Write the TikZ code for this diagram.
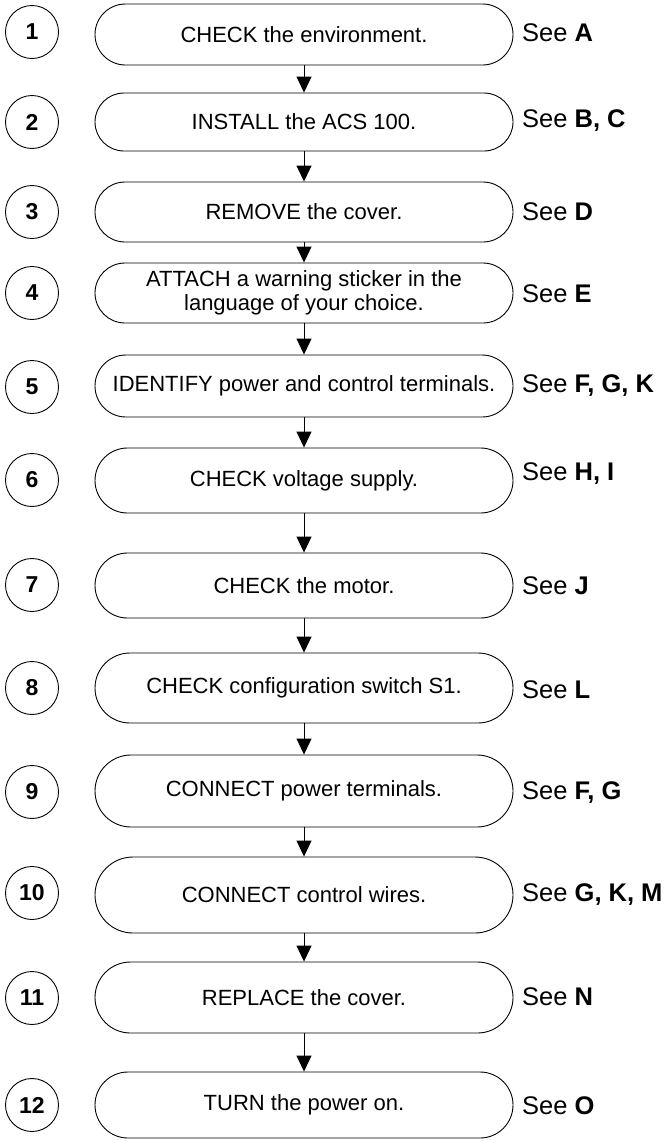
\documentclass[tikz,border=0pt]{standalone}
\usepackage{fontspec}
\setmainfont{Liberation Sans}
\usetikzlibrary{shapes.misc,arrows.meta}
\tikzset{
  stepbox/.style={rounded rectangle, draw, line width=0.9pt, minimum width=418pt, inner sep=0pt, align=center, font=\fontsize{22}{24.5}\selectfont},
  numcircle/.style={circle, draw, line width=0.9pt, minimum size=53pt, inner sep=0pt, font=\fontsize{23}{25}\selectfont\bfseries},
  seelabel/.style={anchor=west, inner sep=0pt, font=\fontsize{25.5}{27}\selectfont},
  flow/.style={line width=0.9pt, -{Triangle[width=15pt,length=16pt]}}
}
\begin{document}
\begin{tikzpicture}[x=1pt,y=-1pt]
\useasboundingbox (0,0) rectangle (669,1141);
% boxes
\node[stepbox, minimum height=61pt] (b1) at (304,34.5) {CHECK the environment.};
\node[stepbox, minimum height=58pt] (b2) at (304,122) {INSTALL the ACS 100.};
\node[stepbox, minimum height=60pt] (b3) at (304,212) {REMOVE the cover.};
\node[stepbox, minimum height=60pt] (b4) at (304,293) {ATTACH a warning sticker in the\\language of your choice.};
\node[stepbox, minimum height=62pt] (b5) at (304,386) {IDENTIFY power and control terminals.};
\node[stepbox, minimum height=65pt] (b6) at (304,480.5) {CHECK voltage supply.};
\node[stepbox, minimum height=65pt] (b7) at (304,585.5) {CHECK the motor.};
\node[stepbox, minimum height=70pt] (b8) at (304,688) {CHECK configuration switch S1.};
\node[stepbox, minimum height=72pt] (b9) at (304,791) {CONNECT power terminals.};
\node[stepbox, minimum height=76pt] (b10) at (304,895) {CONNECT control wires.};
\node[stepbox, minimum height=71pt] (b11) at (304,997.5) {REPLACE the cover.};
\node[stepbox, minimum height=66pt] (b12) at (304,1105) {TURN the power on.};
% number circles
\node[numcircle] (n1) at (32,32) {1};
\node[numcircle] (n2) at (32,122) {2};
\node[numcircle] (n3) at (32,212) {3};
\node[numcircle] (n4) at (32,293) {4};
\node[numcircle] (n5) at (32,387) {5};
\node[numcircle] (n6) at (32,480) {6};
\node[numcircle] (n7) at (32,585) {7};
\node[numcircle] (n8) at (32,688) {8};
\node[numcircle] (n9) at (32,792) {9};
\node[numcircle] (n10) at (32,893) {10};
\node[numcircle] (n11) at (32,998) {11};
\node[numcircle] (n12) at (32,1105) {12};
% see labels
\node[seelabel] (s1) at (522,33) {See \textbf{A}};
\node[seelabel] (s2) at (522,121) {See \textbf{B, C}};
\node[seelabel] (s3) at (522,212) {See \textbf{D}};
\node[seelabel] (s4) at (522,294) {See \textbf{E}};
\node[seelabel] (s5) at (522,386) {See \textbf{F, G, K}};
\node[seelabel] (s6) at (522,474) {See \textbf{H, I}};
\node[seelabel] (s7) at (522,586) {See \textbf{J}};
\node[seelabel] (s8) at (522,690) {See \textbf{L}};
\node[seelabel] (s9) at (522,793) {See \textbf{F, G}};
\node[seelabel] (s10) at (522,895) {See \textbf{G, K, M}};
\node[seelabel] (s11) at (522,997) {See \textbf{N}};
\node[seelabel] (s12) at (522,1106) {See \textbf{O}};
% arrows
\foreach \a/\b in {b1/b2,b2/b3,b3/b4,b4/b5,b5/b6,b6/b7,b7/b8,b8/b9,b9/b10,b10/b11,b11/b12}
  \draw[flow] (\a.south) -- (\b.north);
\end{tikzpicture}
\end{document}
